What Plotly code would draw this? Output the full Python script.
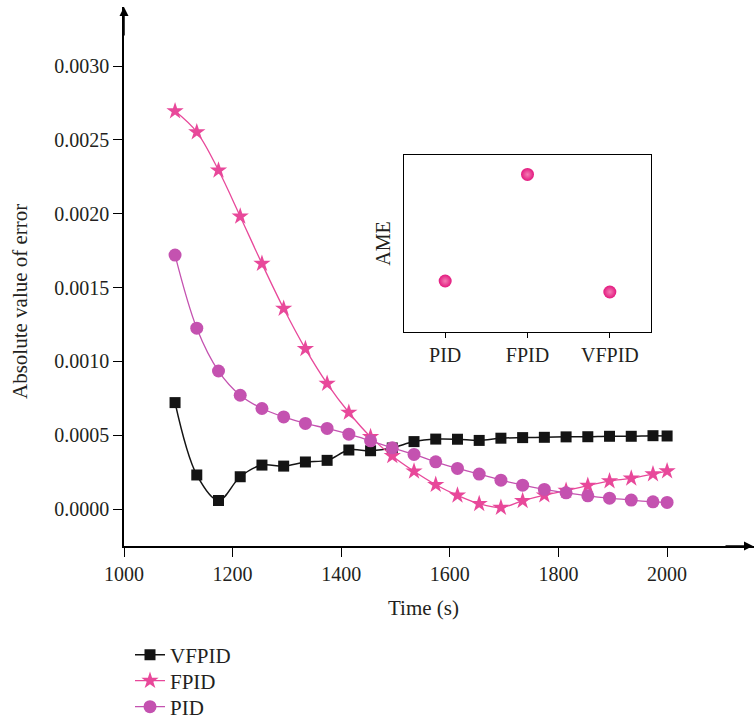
import plotly.graph_objects as go

# ---- data ----
time_s = [1094, 1134, 1174, 1214, 1254, 1294, 1334, 1374, 1414, 1454, 1494, 1534,
          1574, 1614, 1654, 1694, 1734, 1774, 1814, 1854, 1894, 1934, 1974, 2000]

vfpid = [0.000721, 0.000231, 0.000058, 0.000219, 0.000298, 0.000291, 0.000319, 0.000330,
         0.000400, 0.000395, 0.000414, 0.000457, 0.000474, 0.000473, 0.000465, 0.000480,
         0.000484, 0.000486, 0.000489, 0.000490, 0.000493, 0.000493, 0.000497, 0.000495]

fpid = [0.002695, 0.002553, 0.002294, 0.001982, 0.001662, 0.001358, 0.001085, 0.000850,
        0.000654, 0.000489, 0.000360, 0.000256, 0.000165, 0.000093, 0.000036, 0.000010,
        0.000056, 0.000094, 0.000125, 0.000159, 0.000190, 0.000208, 0.000237, 0.000257]

pid = [0.001720, 0.001225, 0.000935, 0.000771, 0.000681, 0.000624, 0.000580, 0.000546,
       0.000507, 0.000462, 0.000415, 0.000370, 0.000320, 0.000275, 0.000237, 0.000196,
       0.000162, 0.000133, 0.000110, 0.000090, 0.000074, 0.000061, 0.000049, 0.000045]

ame_methods = ["PID", "FPID", "VFPID"]
ame_values = [0.288, 0.89, 0.226]

x_ticks = [1000, 1200, 1400, 1600, 1800, 2000]

FONT = "Liberation Serif, Times New Roman, serif"
TXT = "#231F20"
C_BLACK = "#141414"
C_STAR = "#E8489A"
C_CIRC = "#C452B0"
C_AME = "#E3197F"

PLOT_L, PLOT_R, PLOT_T, PLOT_B = 124, 754, 7, 546
PW, PH = PLOT_R - PLOT_L, PLOT_B - PLOT_T


def px_x(px):
    return (px - PLOT_L) / PW


def px_y(py):
    return (PLOT_B - py) / PH


fig = go.Figure()

fig.add_trace(go.Scatter(
    x=time_s, y=vfpid, name="VFPID", mode="lines+markers", legend="legend",
    line=dict(color=C_BLACK, width=1.5, shape="spline", smoothing=1.0),
    marker=dict(symbol="square", size=11, color=C_BLACK)))
fig.add_trace(go.Scatter(
    x=time_s, y=fpid, name="FPID", mode="lines+markers", legend="legend2",
    line=dict(color=C_STAR, width=1.3, shape="spline", smoothing=1.0),
    marker=dict(symbol="star", size=13, color=C_STAR)))
fig.add_trace(go.Scatter(
    x=time_s, y=pid, name="PID", mode="lines+markers", legend="legend3",
    line=dict(color=C_CIRC, width=1.3, shape="spline", smoothing=1.0),
    marker=dict(symbol="circle", size=13, color=C_CIRC)))

# inset
fig.add_trace(go.Scatter(
    x=ame_methods, y=ame_values, mode="markers", showlegend=False,
    xaxis="x2", yaxis="y2",
    marker=dict(symbol="circle", size=13, color=C_AME,
                gradient=dict(type="radial", color="#F47DB5"))))

leg_common = dict(xanchor="left", yanchor="middle", bgcolor="rgba(0,0,0,0)",
                  font=dict(size=21, color=TXT), x=px_x(130))

fig.update_layout(
    width=754, height=720,
    margin=dict(l=PLOT_L, r=754 - PLOT_R, t=PLOT_T, b=720 - PLOT_B, autoexpand=False),
    paper_bgcolor="white", plot_bgcolor="white",
    font=dict(family=FONT, size=20, color=TXT),
    xaxis=dict(range=[1000, 2160], tickvals=x_ticks, showgrid=False, zeroline=False,
               showline=True, linecolor="black", linewidth=1.5,
               ticks="outside", ticklen=9, tickwidth=1.2, tickcolor="black",
               tickfont=dict(size=20, color=TXT)),
    yaxis=dict(range=[-0.00025, 0.0034], tick0=0, dtick=0.0005, tickformat=".4f",
               showgrid=False, zeroline=False,
               showline=True, linecolor="black", linewidth=1.5,
               ticks="outside", ticklen=9, tickwidth=1.2, tickcolor="black",
               tickfont=dict(size=20, color=TXT)),
    xaxis2=dict(domain=[px_x(404), px_x(651)], anchor="y2", type="category",
                range=[-0.5, 2.5], showgrid=False, zeroline=False,
                showline=True, mirror=True, linecolor="black", linewidth=1.3,
                ticks="outside", ticklen=5, tickcolor="black",
                tickfont=dict(size=20, color=TXT)),
    yaxis2=dict(domain=[px_y(332), px_y(155)], anchor="x2", range=[0, 1],
                showgrid=False, zeroline=False, showticklabels=False, ticks="",
                showline=True, mirror=True, linecolor="black", linewidth=1.3,
                title=dict(text="AME", font=dict(size=20, color=TXT), standoff=6)),
    legend=dict(y=px_y(655), **leg_common),
    legend2=dict(y=px_y(681), **leg_common),
    legend3=dict(y=px_y(707), **leg_common),
    showlegend=True,
)

# axis titles as annotations
fig.add_annotation(text="Time (s)", xref="paper", yref="paper",
                   x=px_x(423), y=px_y(608),
                   xanchor="center", yanchor="middle", showarrow=False,
                   font=dict(size=21, color=TXT))
fig.add_annotation(text="Absolute value of error", xref="paper", yref="paper",
                   x=px_x(20), y=px_y(302), textangle=-90,
                   xanchor="center", yanchor="middle", showarrow=False,
                   font=dict(size=21, color=TXT))

# axis arrows
fig.add_annotation(x=1000, y=1, xref="x", yref="paper", ax=0, ay=30,
                   showarrow=True, arrowhead=2, arrowsize=1.2, arrowwidth=1.5,
                   arrowcolor="black", text="")
fig.add_annotation(x=1, y=0, xref="paper", yref="paper", ax=-30, ay=0,
                   showarrow=True, arrowhead=2, arrowsize=1.2, arrowwidth=1.5,
                   arrowcolor="black", text="")

fig.write_html("out.html")
